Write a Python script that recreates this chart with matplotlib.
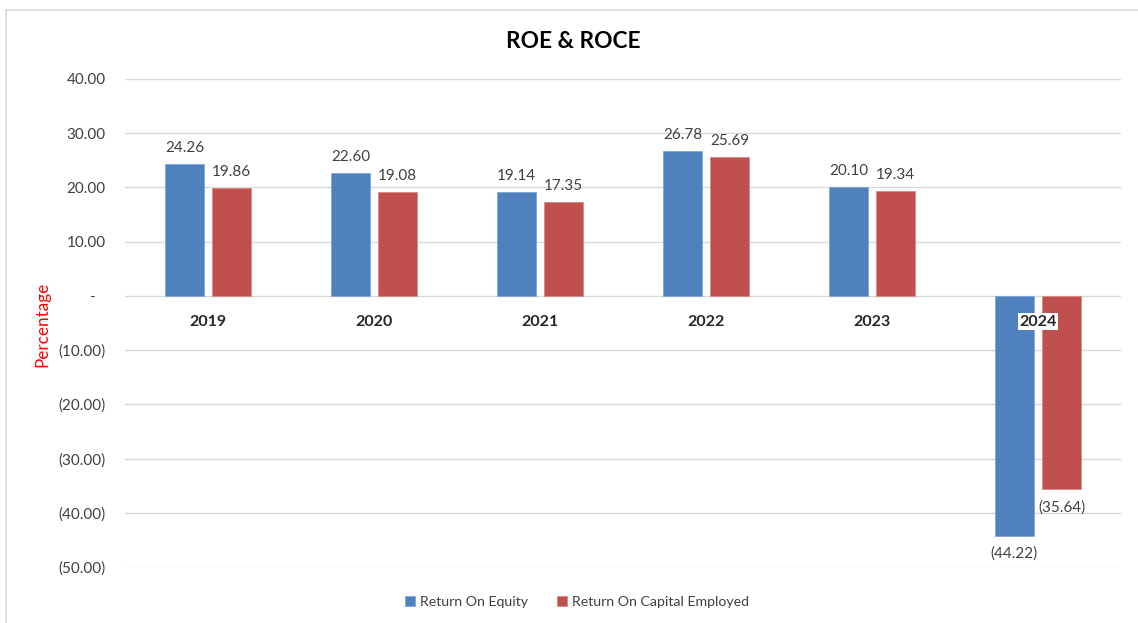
import matplotlib
matplotlib.use("Agg")
import matplotlib.pyplot as plt
from matplotlib.patches import Rectangle
from matplotlib.transforms import offset_copy
import numpy as np

plt.rcParams['font.family'] = ['Lato', 'DejaVu Sans']

years = ["2019", "2020", "2021", "2022", "2023", "2024"]
roe = [24.26, 22.60, 19.14, 26.78, 20.10, -44.22]
roce = [19.86, 19.08, 17.35, 25.69, 19.34, -35.64]
series_names = ["Return On Equity", "Return On Capital Employed"]
colors = ["#4F81BD", "#C0504D"]
yticks = [40, 30, 20, 10, 0, -10, -20, -30, -40, -50]

def fmt(v):
    if abs(v) < 1e-9:
        return "-"
    if v < 0:
        return "({:.2f})".format(-v)
    return "{:.2f}".format(v)

fig = plt.figure(figsize=(11.38, 6.23), dpi=100)
fig.patch.set_facecolor("white")
# outer chart border
fig.add_artist(Rectangle((6/1138, -0.01), 1.02, 1 - 10/623 + 0.01, transform=fig.transFigure,
                         fill=False, edgecolor="#D9D9D9", linewidth=1.2))

ax = fig.add_axes([125/1138, 56/623, (1121-125)/1138, (567-79)/623])
x = np.arange(len(years))
w = 0.229
off = 0.1416
bars1 = ax.bar(x - off, roe, w, color=colors[0], label=series_names[0], zorder=3,
               edgecolor="#7EA6D6", linewidth=0.6)
bars2 = ax.bar(x + off, roce, w, color=colors[1], label=series_names[1], zorder=3,
               edgecolor="#D98A88", linewidth=0.6)

ax.set_xlim(-0.5, len(years) - 0.5)
ax.set_ylim(-50, 40)
ax.set_yticks(yticks)
ax.set_yticklabels([fmt(v) for v in yticks], fontsize=11, color="#404040")
ax.tick_params(axis="y", length=0, pad=14)
ax.set_xticks([])
for s in ax.spines.values():
    s.set_visible(False)
ax.grid(axis="y", color="#D9D9D9", linewidth=1, zorder=0)
ax.set_axisbelow(True)

# shift the zero "-" label to mimic Excel accounting format
for lbl in ax.get_yticklabels():
    if lbl.get_text() == "-":
        lbl.set_transform(offset_copy(lbl.get_transform(), fig=fig, x=-10, y=0, units="dots"))

# data labels
for bars, vals in ((bars1, roe), (bars2, roce)):
    for b, v in zip(bars, vals):
        cx = b.get_x() + b.get_width() / 2
        if v >= 0:
            ax.annotate(fmt(v), (cx, v), xytext=(0, 6.5), textcoords="offset points",
                        ha="center", va="bottom", fontsize=11, color="#404040")
        else:
            ax.annotate(fmt(v), (cx, v), xytext=(0, -8), textcoords="offset points",
                        ha="center", va="top", fontsize=11, color="#404040")

# category labels at zero line
for xi, yr in zip(x, years):
    ax.annotate(yr, (xi, 0), xytext=(0, -13.5), textcoords="offset points",
                ha="center", va="top", fontsize=11.5, fontweight="bold", color="#262626",
                bbox=dict(boxstyle="square,pad=0.1", facecolor="white", edgecolor="none"),
                zorder=5)

fig.text(573/1138, 1 - 42/623, "ROE & ROCE", ha="center", va="center",
         fontsize=16.3, fontweight="bold", color="black")
fig.text(42/1138, 1 - 324/623, "Percentage", rotation=90, ha="center", va="center",
         fontsize=12.3, color="#FF0000")

fig.legend(handles=[bars1, bars2], labels=series_names, loc="center",
           bbox_to_anchor=(577/1138, 1 - 602/623), ncol=2, frameon=False,
           fontsize=10.2, handlelength=0.7, handleheight=0.7, handletextpad=0.3,
           columnspacing=2.1, labelcolor="#404040")

fig.savefig("out.png", dpi=100, facecolor="white")
